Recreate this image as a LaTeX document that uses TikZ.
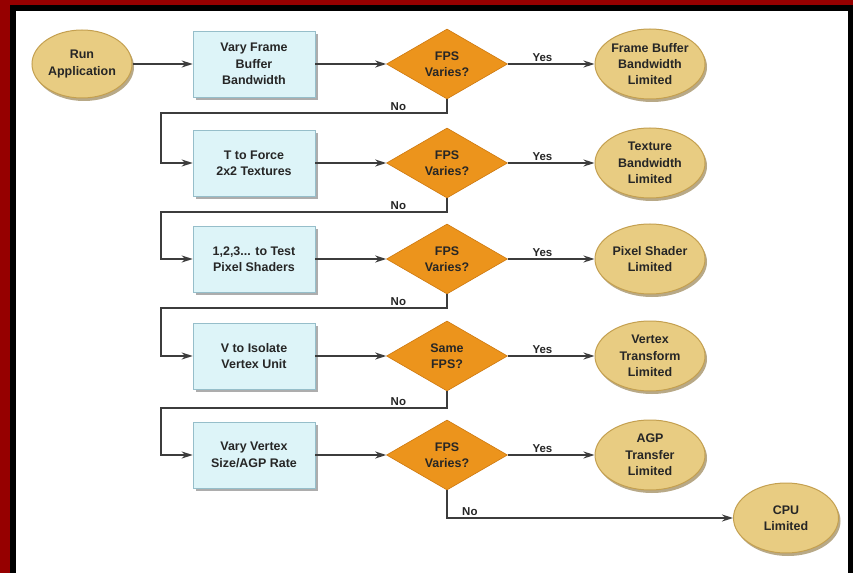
\documentclass[tikz,border=0pt]{standalone}
\usepackage{fontspec}
\setmainfont{Liberation Sans}
\usetikzlibrary{shapes.geometric,arrows.meta,shadows}
\definecolor{framered}{RGB}{150,0,0}
\definecolor{boxfill}{RGB}{221,244,248}
\definecolor{boxline}{RGB}{150,190,202}
\definecolor{queryfill}{RGB}{236,148,28}
\definecolor{queryline}{RGB}{205,120,15}
\definecolor{resultfill}{RGB}{232,204,130}
\definecolor{resultline}{RGB}{196,160,80}
\definecolor{inkgray}{RGB}{38,38,38}
\definecolor{wiregray}{RGB}{60,60,60}
\begin{document}
\begin{tikzpicture}[x=1bp,y=-1bp,
  every node/.style={font=\fontsize{12.5}{16.5}\selectfont\bfseries, text=inkgray, align=center},
  testbox/.style={draw=boxline, line width=0.6bp, fill=boxfill, rectangle, minimum width=122bp, minimum height=66bp,
    drop shadow={shadow xshift=3bp, shadow yshift=-3bp, fill=black!40, opacity=0.8}},
  query/.style={draw=queryline, line width=0.6bp, fill=queryfill, diamond, aspect=1.7, inner sep=1bp, minimum width=121bp, minimum height=70bp},
  result/.style={draw=resultline, line width=1bp, fill=resultfill, ellipse, inner sep=0bp, minimum width=110bp, minimum height=70bp,
    drop shadow={shadow xshift=2bp, shadow yshift=-3bp, fill=resultline!70!black, opacity=0.6}},
  flow/.style={draw=wiregray, line width=1.7bp, -{Stealth[length=11bp,width=7bp]}},
  tag/.style={font=\fontsize{11.5}{13}\selectfont\bfseries, inner sep=2bp}]
\useasboundingbox (0,0) rectangle (853,573);
\fill[framered] (0,0) rectangle (853,573);
\fill[black] (10,5) rectangle (853,573);
\fill[white] (16,11) rectangle (848,573);
\node[result, minimum width=100bp, minimum height=68bp] (run) at (82,64) {Run\\Application};
\node[testbox] (t1) at (254,64) {Vary Frame\\Buffer\\Bandwidth};
\node[testbox] (t2) at (254,163) {T to Force\\2x2 Textures};
\node[testbox] (t3) at (254,259) {1,2,3... to Test\\Pixel Shaders};
\node[testbox] (t4) at (254,356) {V to Isolate\\Vertex Unit};
\node[testbox] (t5) at (254,455) {Vary Vertex\\Size/AGP Rate};
\node[query] (q1) at (447,64) {FPS\\Varies?};
\node[query] (q2) at (447,163) {FPS\\Varies?};
\node[query] (q3) at (447,259) {FPS\\Varies?};
\node[query] (q4) at (447,356) {Same\\FPS?};
\node[query] (q5) at (447,455) {FPS\\Varies?};
\node[result] (r1) at (650,64) {Frame Buffer\\Bandwidth\\Limited};
\node[result] (r2) at (650,163) {Texture\\Bandwidth\\Limited};
\node[result] (r3) at (650,259) {Pixel Shader\\Limited};
\node[result] (r4) at (650,356) {Vertex\\Transform\\Limited};
\node[result] (r5) at (650,455) {AGP\\Transfer\\Limited};
\node[result, minimum width=105bp] (cpu) at (786,518) {CPU\\Limited};
\coordinate (j1) at (161,113);
\coordinate (j2) at (161,212);
\coordinate (j3) at (161,308);
\coordinate (j4) at (161,408);
\draw[flow] (run) -- (t1);
\draw[flow] (t1) -- (q1);
\draw[flow] (t2) -- (q2);
\draw[flow] (t3) -- (q3);
\draw[flow] (t4) -- (q4);
\draw[flow] (t5) -- (q5);
\draw[flow] (q1) -- node[tag, above, pos=0.4] {Yes} (r1);
\draw[flow] (q2) -- node[tag, above, pos=0.4] {Yes} (r2);
\draw[flow] (q3) -- node[tag, above, pos=0.4] {Yes} (r3);
\draw[flow] (q4) -- node[tag, above, pos=0.4] {Yes} (r4);
\draw[flow] (q5) -- node[tag, above, pos=0.4] {Yes} (r5);
\draw[flow] (q1.south) |- node[tag, above, pos=0.585] {No} (j1) |- (t2.west);
\draw[flow] (q2.south) |- node[tag, above, pos=0.585] {No} (j2) |- (t3.west);
\draw[flow] (q3.south) |- node[tag, above, pos=0.585] {No} (j3) |- (t4.west);
\draw[flow] (q4.south) |- node[tag, above, pos=0.585] {No} (j4) |- (t5.west);
\draw[flow] (q5.south) |- node[tag, above, pos=0.54] {No} (cpu.west);
\end{tikzpicture}
\end{document}
